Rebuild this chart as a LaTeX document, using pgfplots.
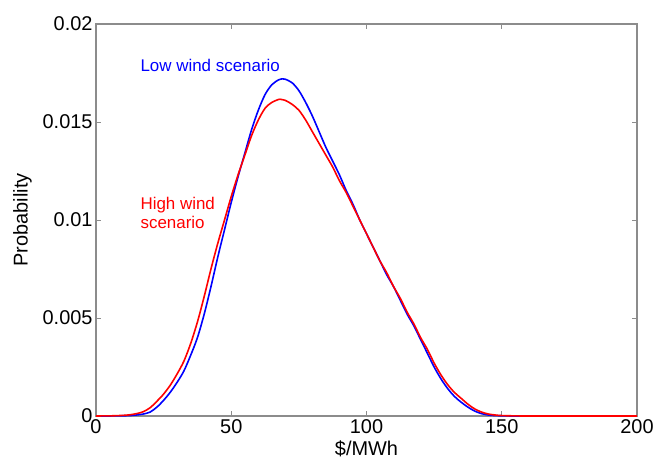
\documentclass[border=0pt]{standalone}
\usepackage{pgfplots}
\pgfplotsset{compat=1.18}
\usepackage{fontspec}
\setmainfont{Liberation Sans}

\definecolor{lowwind}{RGB}{0,0,255}
\definecolor{highwind}{RGB}{255,0,0}
\definecolor{frame}{RGB}{140,140,140}

\begin{document}
\begin{tikzpicture}
\begin{axis}[
    scale only axis,
    width=541bp,
    height=392bp,
    xmin=0, xmax=200,
    ymin=0, ymax=0.02,
    xtick={0,50,100,150,200},
    ytick={0,0.005,0.01,0.015,0.02},
    yticklabels={0,0.005,0.01,0.015,0.02},
    scaled y ticks=false,
    tick align=inside,
    major tick length=5bp,
    axis line style={frame, line width=1.2bp},
    tick style={frame, line width=0.8bp},
    /pgf/number format/assume math mode=true,
    tick label style={font=\fontsize{20}{22}\selectfont},
    label style={font=\fontsize{20}{22}\selectfont},
    xlabel={\$/MWh},
    ylabel={Probability},
    xlabel style={at={(axis description cs:0.5,-0.084)}, anchor=center, inner sep=1pt},
    ylabel style={at={(axis description cs:-0.136,0.5)}, anchor=center, rotate=0},
    clip=false,
]
% low wind scenario
\addplot[lowwind, line width=1.6bp, smooth, tension=0.5] coordinates {
    (0,0) (5,0) (8,0.000005) (10,0.00001) (12.5,0.00002) (15,0.00005)
    (17.5,0.0001) (20,0.0002) (22.5,0.00045) (25,0.0008) (27.5,0.00122)
    (30,0.00172) (32.5,0.0023) (35,0.0031) (37.5,0.0040) (40,0.0052)
    (42.5,0.0066) (45,0.0081) (47.5,0.0095) (50,0.0109) (52.5,0.0122)
    (55,0.0134) (57.5,0.0146) (60,0.0156) (62.5,0.0164) (65,0.0169)
    (67.5,0.01715) (69,0.0172) (70,0.01718) (72.5,0.0170) (75,0.0166)
    (77.5,0.0160) (80,0.0153) (82.5,0.0145) (85,0.0137) (87.5,0.0130)
    (90,0.0123) (92.5,0.0115) (95,0.0108) (97.5,0.0100) (100,0.0093)
    (102.5,0.0086) (105,0.0079) (107.5,0.0072) (110,0.0066) (112.5,0.0059)
    (115,0.0052) (117.5,0.0046) (120,0.0039) (122.5,0.0032) (125,0.0025)
    (127.5,0.0019) (130,0.0014) (132.5,0.0010) (135,0.0007) (137.5,0.00045)
    (140,0.00025) (142.5,0.00012) (145,0.00005) (147.5,0.00002) (150,0.00001)
    (155,0) (200,0)
};
% high wind scenario
\addplot[highwind, line width=1.6bp, smooth, tension=0.5] coordinates {
    (0,0) (5,0.000005) (10,0.00003) (12.5,0.00006) (15,0.00012)
    (17.5,0.00022) (20,0.00042) (22.5,0.00075) (25,0.00112) (27.5,0.00158)
    (30,0.00215) (32.5,0.0028) (35,0.0037) (37.5,0.0048) (40,0.0061)
    (42.5,0.0075) (45,0.0088) (47.5,0.0100) (50,0.0112) (52.5,0.0123)
    (55,0.0133) (57.5,0.0143) (60,0.0151) (62.5,0.0157) (65,0.0160)
    (67.5,0.01615) (68,0.01616) (70,0.0161) (72.5,0.0159) (75,0.0156)
    (77.5,0.0151) (80,0.0145) (82.5,0.0139) (85,0.0133) (87.5,0.0127)
    (90,0.0120) (92.5,0.0114) (95,0.0107) (97.5,0.0100) (100,0.0093)
    (102.5,0.0086) (105,0.0079) (107.5,0.0073) (110,0.0066) (112.5,0.0060)
    (115,0.0053) (117.5,0.0047) (120,0.0040) (122.5,0.0034) (125,0.0027)
    (127.5,0.0021) (130,0.0016) (132.5,0.0012) (135,0.0009) (137.5,0.0006)
    (140,0.00036) (142.5,0.0002) (145,0.0001) (147.5,0.00005) (150,0.00002)
    (155,0.000005) (160,0) (200,0)
};
\node[lowwind, anchor=base west, inner sep=0pt, font=\fontsize{17}{19}\selectfont]
    at (axis cs:16.4,0.0176) {Low wind scenario};
\node[highwind, anchor=base west, inner sep=0pt, font=\fontsize{17}{19}\selectfont]
    at (axis cs:16.4,0.01056) {High wind};
\node[highwind, anchor=base west, inner sep=0pt, font=\fontsize{17}{19}\selectfont]
    at (axis cs:16.4,0.00954) {scenario};
\coordinate (bbsw) at (axis description cs:-0.1775,-0.1173);
\coordinate (bbne) at (axis description cs:1.0333,1.0612);
\end{axis}
\pgfresetboundingbox
\path[use as bounding box] (bbsw) rectangle (bbne);
\end{tikzpicture}
\end{document}
